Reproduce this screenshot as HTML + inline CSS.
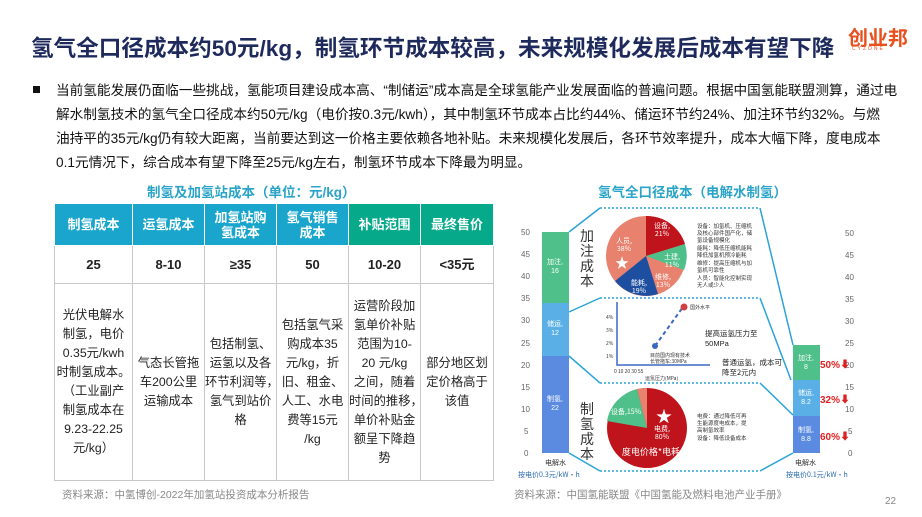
<!DOCTYPE html>
<html><head><meta charset="utf-8"><style>
*{margin:0;padding:0;box-sizing:border-box}
body{width:922px;height:517px;background:#fff;position:relative;overflow:hidden;font-family:"Liberation Sans","Noto Sans CJK SC",sans-serif;color:#222}
.a{position:absolute;white-space:nowrap}
.title{left:31px;top:30px;font-size:22.6px;font-weight:bold;color:#1e2a5c}
.logo{left:848px;top:22px;font-size:20px;font-weight:bold;color:#e8501e}
.logo2{left:852px;top:46px;font-size:5px;color:#e8501e;letter-spacing:2px}
.body{left:56px;top:79px;font-size:13.65px;line-height:24px;color:#111;white-space:nowrap}
.bul{left:33px;top:86px;width:7px;height:7px;background:#111}
.sub{font-size:13.5px;font-weight:bold;color:#2aa4c8}
table{position:absolute;left:54px;top:203px;width:439px;border-collapse:collapse;font-size:12.3px;table-layout:fixed}
td{border:1px solid #c8c8c8;text-align:center;vertical-align:middle;line-height:19px;white-space:nowrap;overflow:hidden}
th{color:#fff;font-size:13px;font-weight:bold;border:1px solid #fff;line-height:15px;height:42px}
.src{font-size:10.5px;color:#888}
</style></head><body>
<div class="a title">氢气全口径成本约50元/kg，制氢环节成本较高，未来规模化发展后成本有望下降</div>
<div class="a logo">创业邦</div><div class="a logo2">CYZONE</div>
<div class="a bul"></div>
<div class="a body">当前氢能发展仍面临一些挑战，氢能项目建设成本高、“制储运”成本高是全球氢能产业发展面临的普遍问题。根据中国氢能联盟测算，通过电<br>解水制氢技术的氢气全口径成本约50元/kg（电价按0.3元/kwh），其中制氢环节成本占比约44%、储运环节约24%、加注环节约32%。与燃<br>油持平的35元/kg仍有较大距离，当前要达到这一价格主要依赖各地补贴。未来规模化发展后，各环节效率提升，成本大幅下降，度电成本<br>0.1元情况下，综合成本有望下降至25元/kg左右，制氢环节成本下降最为明显。</div>
<div class="a sub" style="left:147px;top:181px">制氢及加氢站成本（单位：元/kg）</div>
<div class="a sub" style="left:598px;top:181px">氢气全口径成本（电解水制氢）</div>
<table>
<colgroup><col style="width:78px"><col style="width:72px"><col style="width:72px"><col style="width:72px"><col style="width:72px"><col style="width:73px"></colgroup>
<tr><th style="background:#1aa6cc">制氢成本</th><th style="background:#1aa6cc">运氢成本</th><th style="background:#1aa6cc">加氢站购<br>氢成本</th><th style="background:#1aa6cc">氢气销售<br>成本</th><th style="background:#06a98a">补贴范围</th><th style="background:#06a98a">最终售价</th></tr>
<tr style="height:38px;font-size:13px;font-weight:bold"><td>25</td><td>8-10</td><td>≥35</td><td>50</td><td>10-20</td><td>&lt;35元</td></tr>
<tr style="height:197px"><td>光伏电解水<br>制氢，电价<br>0.35元/kwh<br>时制氢成本。<br>（工业副产<br>制氢成本在<br>9.23-22.25<br>元/kg）</td><td>气态长管拖<br>车200公里<br>运输成本</td><td>包括制氢、<br>运氢以及各<br>环节利润等，<br>氢气到站价<br>格</td><td>包括氢气采<br>购成本35<br>元/kg，折<br>旧、租金、<br>人工、水电<br>费等15元<br>/kg</td><td>运营阶段加<br>氢单价补贴<br>范围为10-<br>20 元/kg<br>之间，随着<br>时间的推移，<br>单价补贴金<br>额呈下降趋<br>势</td><td>部分地区划<br>定价格高于<br>该值</td></tr>
</table>
<div class="a src" style="left:62px;top:487px">资料来源：中氢博创-2022年加氢站投资成本分析报告</div>
<div class="a src" style="left:514px;top:487px">资料来源：中国氢能联盟《中国氢能及燃料电池产业手册》</div>
<svg class="a" style="left:0;top:0" width="922" height="517">
<g font-size="8" fill="#666" font-family="Liberation Sans">
<text x="521" y="235">50</text><text x="521" y="257">45</text><text x="521" y="279">40</text><text x="521" y="301">35</text><text x="521" y="323">30</text><text x="521" y="346">25</text><text x="521" y="368">20</text><text x="521" y="390">15</text><text x="521" y="412">10</text><text x="524" y="434">5</text><text x="524" y="456">0</text>
<text x="845" y="236">50</text><text x="845" y="258">45</text><text x="845" y="280">40</text><text x="845" y="302">35</text><text x="845" y="324">30</text><text x="845" y="346">25</text><text x="845" y="368">20</text><text x="845" y="390">15</text><text x="845" y="412">10</text><text x="848" y="434">5</text><text x="848" y="456">0</text>
</g>
<rect x="542" y="232" width="27" height="71" fill="#4fc08a"/>
<rect x="542" y="303" width="27" height="53" fill="#5ab0e6"/>
<rect x="542" y="356" width="27" height="97" fill="#5a8be0"/>
<rect x="793" y="345" width="27" height="35" fill="#4fc08a"/>
<rect x="793" y="380" width="27" height="36" fill="#5ab0e6"/>
<rect x="793" y="416" width="27" height="37" fill="#5a8be0"/>
<g font-size="7" fill="#fff" text-anchor="middle" font-family="Liberation Sans,Noto Sans CJK SC">
<text x="555" y="264">加注,</text><text x="555" y="273">16</text>
<text x="555" y="326">储运,</text><text x="555" y="335">12</text>
<text x="555" y="401">制氢,</text><text x="555" y="410">22</text>
<text x="806" y="360">加注,</text><text x="806" y="369">8</text>
<text x="806" y="395">储运,</text><text x="806" y="404">8.2</text>
<text x="806" y="432">制氢,</text><text x="806" y="441">8.8</text>
</g>
<g stroke="#2aa4d8" stroke-width="1.5" fill="none">
<path d="M569 232 L600 208 M569 312 L600 298 M569 356 L600 383 M569 453 L600 471"/>
<path d="M760 208 L793 345 M760 298 L791 380 M760 383 L793 415 M760 471 L793 453"/>
<path d="M600 208 H760 M600 298 H760 M600 383 H760 M600 471 H760" stroke-dasharray="2,2"/>
</g>
<g font-size="14" fill="#333" font-family="Noto Sans CJK SC" text-anchor="middle">
<text x="587" y="241">加</text><text x="587" y="256">注</text><text x="587" y="271">成</text><text x="587" y="286">本</text>
<text x="587" y="414">制</text><text x="587" y="429">氢</text><text x="587" y="444">成</text><text x="587" y="459">本</text>
</g>
<circle cx="646" cy="256" r="40" fill="#e8826e"/>
<path d="M646 256 L646 216 A40 40 0 0 1 685 244 Z" fill="#c0141c"/>
<path d="M646 256 L685 244 A40 40 0 0 1 684 270 Z" fill="#4fc08a"/>
<path d="M646 256 L658 294 A40 40 0 0 1 615 281 Z" fill="#1e4ea0"/>
<g font-size="7" fill="#fff" text-anchor="middle" font-family="Noto Sans CJK SC">
<text x="662" y="228">设备,</text><text x="662" y="236">21%</text>
<text x="624" y="243">人员,</text><text x="624" y="251">38%</text>
<text x="672" y="259">土建,</text><text x="672" y="267">11%</text>
<text x="663" y="279">维修,</text><text x="663" y="287">13%</text>
<text x="639" y="285">能耗,</text><text x="639" y="293">19%</text>
<text x="622" y="268" font-size="14">★</text>
</g>
<g font-size="5.5" fill="#333" font-family="Noto Sans CJK SC">
<text x="697" y="228">设备：加氢机、压缩机</text><text x="697" y="235">及核心部件国产化，储</text><text x="697" y="242">氢设备规模化</text>
<text x="697" y="250">能耗：降低压缩机能耗</text><text x="697" y="257">降低加氢机预冷能耗</text><text x="697" y="265">维修：提高压缩机与加</text><text x="697" y="272">氢机可靠性</text>
<text x="697" y="280">人员：智能化控制实现</text><text x="697" y="287">无人或少人</text>
</g>
<path d="M617 302 V365 H710" stroke="#3a6ac0" stroke-width="1.5" fill="none"/>
<path d="M655 346 L683 307" stroke="#3a6ac0" stroke-width="2" stroke-dasharray="4,3"/>
<circle cx="655" cy="346" r="3" fill="#3a6ac0"/><circle cx="684" cy="307" r="3.5" fill="#d04040"/>
<g font-size="5" fill="#333" font-family="Noto Sans CJK SC">
<text x="690" y="309">国外水平</text><text x="650" y="357">目前国内现有技术</text><text x="650" y="363">长管拖车:30MPa</text>
<text x="606" y="319">4%</text><text x="606" y="332">3%</text><text x="606" y="345">2%</text><text x="606" y="358">1%</text>
<text x="614" y="373">0   10   20  30       55</text><text x="645" y="380">运氢压力(MPa)</text>
</g>
<text x="705" y="336" font-size="7.5" fill="#222" font-family="Noto Sans CJK SC">提高运氢压力至</text>
<text x="705" y="346" font-size="7.5" fill="#222">50MPa</text>
<text x="722" y="365" font-size="7.5" fill="#222" font-family="Noto Sans CJK SC">普通运氢，成本可</text>
<text x="722" y="375" font-size="7.5" fill="#222" font-family="Noto Sans CJK SC">降至2元内</text>
<circle cx="647" cy="428" r="40" fill="#c0141c"/>
<path d="M647 428 L637 389 A40 40 0 0 0 607 421 Z" fill="#4fc08a"/>
<path d="M647 428 L647 388 A40 40 0 0 0 637 389 Z" fill="#e8826e"/>
<g font-size="7" fill="#fff" text-anchor="middle" font-family="Noto Sans CJK SC">
<text x="626" y="414">设备,15%</text><text x="664" y="422" font-size="16">★</text>
<text x="662" y="431">电费,</text><text x="662" y="439">80%</text>
<text x="651" y="455" font-size="9">度电价格*电耗</text>
</g>
<g font-size="5.5" fill="#333" font-family="Noto Sans CJK SC">
<text x="697" y="418">电费：通过降低可再</text><text x="697" y="425">生能源度电成本，提</text><text x="697" y="432">高制氢效率</text><text x="697" y="440">设备：降低设备成本</text>
</g>
<g font-size="10" font-weight="bold" fill="#e02020">
<text x="820" y="368">50%⬇</text><text x="820" y="403">32%⬇</text><text x="820" y="440">60%⬇</text>
</g>
<g font-size="7" fill="#333" font-family="Noto Sans CJK SC">
<text x="545" y="465">电解水</text><text x="795" y="465">电解水</text>
<text x="518" y="477" fill="#2a6ab0">按电价0.3元/kW·h</text><text x="786" y="477" fill="#2a6ab0">按电价0.1元/kW·h</text>
</g>
<text x="885" y="504" font-size="10" fill="#888">22</text>
</svg>
</body></html>
